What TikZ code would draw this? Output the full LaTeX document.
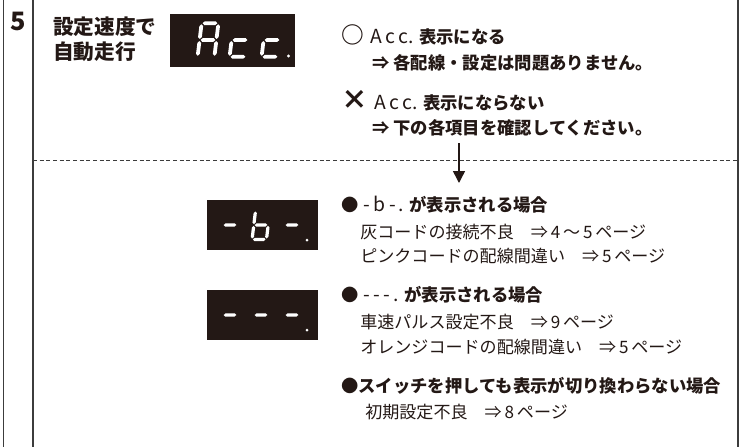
\documentclass[tikz,border=0pt]{standalone}
\usepackage{fontspec}
\setmainfont{Noto Sans CJK JP}
\usetikzlibrary{arrows.meta}
\definecolor{ink}{RGB}{35,24,21}
\definecolor{dispbg}{RGB}{35,24,21}
\definecolor{framec}{RGB}{60,60,60}
% seven-segment helpers (local units: digit 16 x 32, centred)
\newcommand\SgH[3]{\fill[segfill] ({#1+1},{#3}) -- ({#1+2.8},{#3-1.8}) -- ({#2-2.8},{#3-1.8}) -- ({#2-1},{#3}) -- ({#2-2.8},{#3+1.8}) -- ({#1+2.8},{#3+1.8}) -- cycle;}
\newcommand\SgV[3]{\fill[segfill] ({#1},{#2+1}) -- ({#1+1.8},{#2+2.8}) -- ({#1+1.8},{#3-2.8}) -- ({#1},{#3-1}) -- ({#1-1.8},{#3-2.8}) -- ({#1-1.8},{#2+2.8}) -- cycle;}
\newcommand\SgA{\SgH{-8}{8}{-16}}
\newcommand\SgB{\SgV{8}{-16}{0}}
\newcommand\SgC{\SgV{8}{0}{16}}
\newcommand\SgD{\SgH{-8}{8}{16}}
\newcommand\SgE{\SgV{-8}{0}{16}}
\newcommand\SgF{\SgV{-8}{-16}{0}}
\newcommand\SgG{\SgH{-8}{8}{0}}
\newcommand\SevDigit[4]{\begin{scope}[shift={(#1,#2)},xslant=0.12,scale=#3]#4\end{scope}}
\newcommand\segtxt[1]{{\mdseries\fontsize{14.5}{15}\selectfont #1}}
\begin{document}
\begin{tikzpicture}[x=0.75pt,y=-0.75pt,
  head/.style={anchor=west,inner sep=0pt,text=ink,font=\fontsize{13}{16}\selectfont\bfseries},
  detail/.style={anchor=west,inner sep=0pt,text=ink,font=\fontsize{12.8}{14}\selectfont},
  title/.style={anchor=west,inner sep=0pt,text=ink,font=\fontsize{15.5}{18}\selectfont\bfseries},
  disp/.style={fill=dispbg,inner sep=0pt},
  segfill/.style={fill=white},
  frame/.style={draw=framec,line width=0.9pt},
  sepline/.style={draw=framec,line width=0.7pt,dash pattern=on 3pt off 2pt},
  flow/.style={draw=ink,line width=1.1pt,-{Triangle[width=9pt,length=9pt]}}]
\useasboundingbox (0,0) rectangle (744,447);
% frame
\draw[frame] (3.3,0) -- (3.3,447);
\draw[frame] (33,0) -- (33,447);
\draw[frame] (738,0) -- (738,447);
% step number and title
\node[inner sep=0pt,text=ink,font=\fontsize{19}{20}\selectfont\bfseries] (num) at (18,21) {5};
\node[title] (t1) at (53,27) {設定速度で};
\node[title] (t2) at (53,52) {自動走行};
% display 1
\node[disp,minimum width=93.75pt,minimum height=39.75pt] (d1) at (232.5,40.5) {};
\SevDigit{208}{40}{1.05}{\SgA\SgB\SgC\SgE\SgF\SgG}
\SevDigit{240}{40}{1.05}{\SgG\SgE\SgD}
\SevDigit{272}{40}{1.05}{\SgG\SgE\SgD}
\fill[white] (288.5,56) circle (1.6);
% result texts
\node[head] (ok) at (341,35) {{\fontsize{17}{17}\selectfont ○}\hspace{5pt}\segtxt{A\,c\,c.} 表示になる};
\node[head] (ok2) at (372,63) {⇒ 各配線・設定は問題ありません。};
\node[head] (ng) at (341,101) {{\fontsize{20}{20}\selectfont ×}\hspace{5pt}\segtxt{A\,c\,c.} 表示にならない};
\node[head] (ng2) at (372,128) {⇒ 下の各項目を確認してください。};
% separator and arrow
\coordinate (dl) at (33,160);
\coordinate (dr) at (738,160);
\draw[sepline] (dl) -- (dr);
\coordinate (atop) at (459,143);
\coordinate (abot) at (459,183);
\draw[flow] (atop) -- (abot);
% display 2
\node[disp,minimum width=83.25pt,minimum height=37.5pt] (d2) at (262.5,225) {};
\SevDigit{230}{225}{0.9}{\SgG}
\SevDigit{261}{225}{0.9}{\SgF\SgE\SgG\SgC\SgD}
\SevDigit{292}{225}{0.9}{\SgG}
\fill[white] (307,240) circle (1.5);
% display 3
\node[disp,minimum width=83.25pt,minimum height=37.5pt] (d3) at (262.5,315) {};
\SevDigit{230}{315}{0.9}{\SgG}
\SevDigit{261}{315}{0.9}{\SgG}
\SevDigit{292}{315}{0.9}{\SgG}
\fill[white] (307,330) circle (1.5);
% cases
\node[head] (c1) at (341,205) {●\hspace{4pt}\segtxt{-\,b\,-\,.} が表示される場合};
\node[detail] (c1a) at (360,232) {灰コードの接続不良　⇒\,4\,～\,5\,ページ};
\node[detail] (c1b) at (360,256) {ピンクコードの配線間違い　⇒\,5\,ページ};
\node[head] (c2) at (341,295) {●\hspace{4pt}\segtxt{-\,-\,-\,.} が表示される場合};
\node[detail] (c2a) at (360,322) {車速パルス設定不良　⇒\,9\,ページ};
\node[detail] (c2b) at (360,347) {オレンジコードの配線間違い　⇒\,5\,ページ};
\node[head] (c3) at (341,386) {●スイッチを押しても表示が切り換わらない場合};
\node[detail] (c3a) at (365,412) {初期設定不良　⇒\,8\,ページ};
\end{tikzpicture}
\end{document}
